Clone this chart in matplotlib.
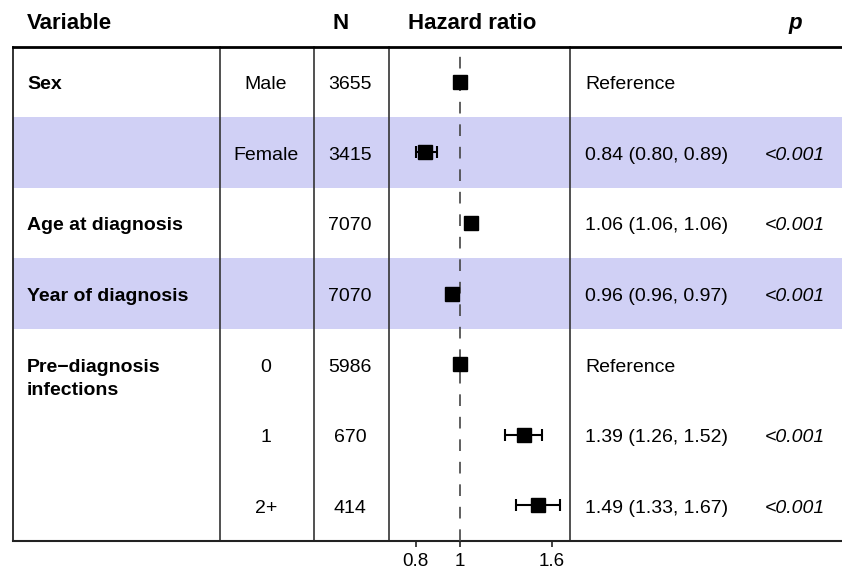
import numpy as np
import matplotlib
matplotlib.use("Agg")
import matplotlib.pyplot as plt

plt.rcParams['font.family'] = ['Liberation Sans', 'DejaVu Sans']

# ---- data ----
variables = ["Sex", "", "Age at diagnosis", "Year of diagnosis", "Pre\u2212diagnosis\ninfections", "", ""]
levels = ["Male", "Female", "", "", "0", "1", "2+"]
n_obs = [3655, 3415, 7070, 7070, 5986, 670, 414]
hr = [1.00, 0.84, 1.06, 0.96, 1.00, 1.39, 1.49]
ci_lo = [np.nan, 0.80, 1.06, 0.96, np.nan, 1.26, 1.33]
ci_hi = [np.nan, 0.89, 1.06, 0.97, np.nan, 1.52, 1.67]
hr_text = ["Reference", "0.84 (0.80, 0.89)", "1.06 (1.06, 1.06)", "0.96 (0.96, 0.97)",
           "Reference", "1.39 (1.26, 1.52)", "1.49 (1.33, 1.67)"]
p_text = ["", "<0.001", "<0.001", "<0.001", "", "<0.001", "<0.001"]
shaded = [False, True, False, True, False, False, False]
x_ticks = [0.8, 1, 1.6]
x_ticklabels = ["0.8", "1", "1.6"]
headers = ["Variable", "N", "Hazard ratio", "p"]

W, H = 842, 575
fig = plt.figure(figsize=(W / 100, H / 100), dpi=100)
bg = fig.add_axes([0, 0, 1, 1])
bg.set_xlim(0, W)
bg.set_ylim(H, 0)
bg.axis('off')

top, bot = 46.5, 540.5
nrows = len(variables)
rh = (bot - top) / nrows
left_x, right_x = 13, W
col_lines = [220, 314, 388.5, 570]
plot_l, plot_r = 388.5, 570

shade_col = '#d0d0f5'
for i in range(nrows):
    if shaded[i]:
        bg.add_patch(plt.Rectangle((left_x, top + i * rh), right_x - left_x, rh,
                                   facecolor=shade_col, edgecolor='none', zorder=0))

# borders
bg.plot([left_x, left_x], [top, bot], color='#222222', lw=1.3, zorder=2)
for cx in col_lines:
    bg.plot([cx, cx], [top, bot], color='#333333', lw=1.2, zorder=2)
bg.plot([left_x, right_x], [top, top], color='black', lw=2.0, zorder=3)
bg.plot([left_x, right_x], [bot, bot], color='#222222', lw=1.5, zorder=3)

# headers
hfs = 16
bg.text(27, 29, headers[0], fontsize=hfs, fontweight='bold', ha='left', va='baseline')
bg.text(341, 29, headers[1], fontsize=hfs, fontweight='bold', ha='center', va='baseline')
bg.text(472, 29, headers[2], fontsize=hfs, fontweight='bold', ha='center', va='baseline')
bg.text(795, 29, headers[3], fontsize=hfs, fontweight='bold', style='italic', ha='center', va='baseline')

fs = 14
for i in range(nrows):
    yc = top + (i + 0.5) * rh
    yb = yc + 7.5
    if variables[i]:
        lines = variables[i].split("\n")
        for k, ln in enumerate(lines):
            bg.text(27, yb + k * 23, ln, fontsize=fs, fontweight='bold', ha='left', va='baseline')
    if levels[i]:
        bg.text(266, yb, levels[i], fontsize=fs, ha='center', va='baseline')
    bg.text(350, yb, str(n_obs[i]), fontsize=fs, ha='center', va='baseline')
    bg.text(585, yb, hr_text[i], fontsize=fs, ha='left', va='baseline')
    if p_text[i]:
        bg.text(765, yb, p_text[i], fontsize=fs, style='italic', ha='left', va='baseline')

# forest axes
ax = fig.add_axes([plot_l / W, 1 - bot / H, (plot_r - plot_l) / W, (bot - top) / H])
ax.patch.set_alpha(0)
ax.set_xscale('log')
ax.set_xlim(0.696, 1.756)
ax.set_ylim(nrows, 0)
for s in ax.spines.values():
    s.set_visible(False)
ax.set_yticks([])
ax.minorticks_off()
ax.set_xticks(x_ticks)
ax.set_xticklabels(x_ticklabels, fontsize=13.5)
ax.tick_params(axis='x', length=4, width=1.2, color='#222222', pad=5)
ax.xaxis.set_minor_locator(matplotlib.ticker.NullLocator())

ax.axvline(1, color='#444444', lw=1.2, dashes=(7, 6.5), zorder=1)

ypos = np.arange(nrows) + 0.5
hr_a = np.array(hr)
lo_a = np.array(ci_lo)
hi_a = np.array(ci_hi)
has_ci = ~np.isnan(lo_a)
ax.errorbar(hr_a[has_ci], ypos[has_ci],
            xerr=[hr_a[has_ci] - lo_a[has_ci], hi_a[has_ci] - hr_a[has_ci]],
            fmt='none', ecolor='black', elinewidth=1.5, capsize=4, capthick=1.5, zorder=3)
ax.plot(hr_a, ypos, 's', color='black', markersize=10, zorder=4)

fig.savefig('out.png', dpi=100)
